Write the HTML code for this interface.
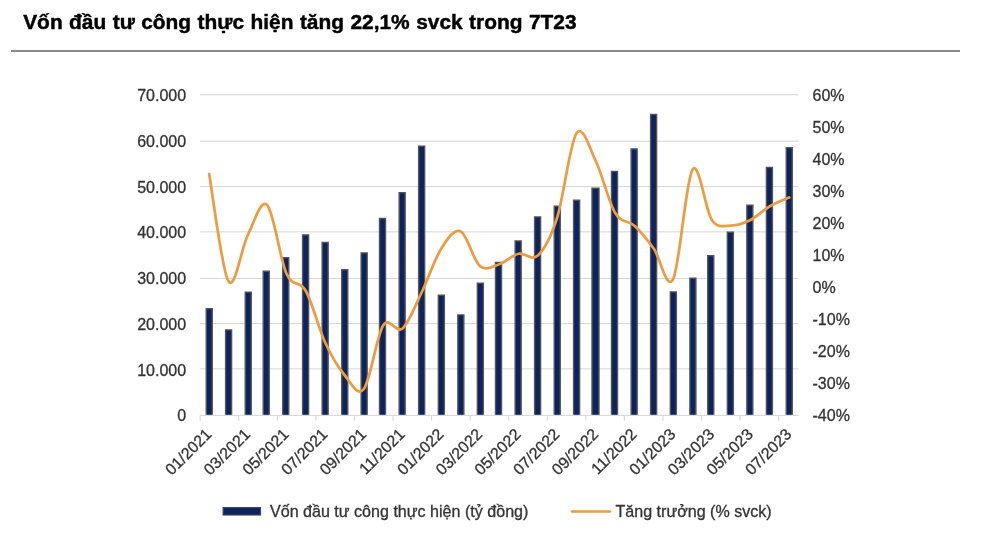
<!DOCTYPE html>
<html><head><meta charset="utf-8">
<style>
html,body{margin:0;padding:0;background:#fff;}
body{width:1000px;height:544px;overflow:hidden;position:relative;font-family:"Liberation Sans",sans-serif;}
.title{position:absolute;left:23.2px;top:9.4px;-webkit-text-stroke:0.45px #000;font-size:20.9px;word-spacing:0.65px;font-weight:bold;color:#000;white-space:nowrap;line-height:26px;}
.rule{position:absolute;left:11px;top:50px;width:949px;height:2px;background:#8a8a8a;}
svg{position:absolute;left:0;top:0;}
.wrap{position:absolute;left:0;top:0;width:1000px;height:544px;will-change:transform;}
.ax{font-family:"Liberation Sans",sans-serif;font-size:16px;fill:#333;stroke:#333;stroke-width:0.3px;}
.lg{font-family:"Liberation Sans",sans-serif;font-size:16.08px;fill:#333;stroke:#333;stroke-width:0.3px;}
</style></head><body>
<div class="wrap"><div class="title">Vốn đầu tư công thực hiện tăng 22,1% svck trong 7T23</div>
<div class="rule"></div>
<svg width="1000" height="544" viewBox="0 0 1000 544">
<line x1="199.8" x2="798.4" y1="368.85" y2="368.85" stroke="#d6d6d6" stroke-width="1"/>
<line x1="199.8" x2="798.4" y1="323.60" y2="323.60" stroke="#d6d6d6" stroke-width="1"/>
<line x1="199.8" x2="798.4" y1="278.45" y2="278.45" stroke="#d6d6d6" stroke-width="1"/>
<line x1="199.8" x2="798.4" y1="231.85" y2="231.85" stroke="#d6d6d6" stroke-width="1"/>
<line x1="199.8" x2="798.4" y1="186.60" y2="186.60" stroke="#d6d6d6" stroke-width="1"/>
<line x1="199.8" x2="798.4" y1="141.20" y2="141.20" stroke="#d6d6d6" stroke-width="1"/>
<line x1="199.8" x2="798.4" y1="94.70" y2="94.70" stroke="#d6d6d6" stroke-width="1"/>
<rect x="206.25" y="308.70" width="6.00" height="108.30" fill="#0c235d" stroke="#53545a" stroke-width="1.4"/>
<rect x="225.60" y="329.95" width="6.00" height="87.05" fill="#0c235d" stroke="#53545a" stroke-width="1.4"/>
<rect x="245.25" y="292.20" width="6.00" height="124.80" fill="#0c235d" stroke="#53545a" stroke-width="1.4"/>
<rect x="263.25" y="271.20" width="6.00" height="145.80" fill="#0c235d" stroke="#53545a" stroke-width="1.4"/>
<rect x="282.75" y="257.70" width="6.00" height="159.30" fill="#0c235d" stroke="#53545a" stroke-width="1.4"/>
<rect x="302.60" y="234.95" width="6.00" height="182.05" fill="#0c235d" stroke="#53545a" stroke-width="1.4"/>
<rect x="322.15" y="242.45" width="6.00" height="174.55" fill="#0c235d" stroke="#53545a" stroke-width="1.4"/>
<rect x="341.75" y="269.70" width="6.00" height="147.30" fill="#0c235d" stroke="#53545a" stroke-width="1.4"/>
<rect x="361.15" y="252.95" width="6.00" height="164.05" fill="#0c235d" stroke="#53545a" stroke-width="1.4"/>
<rect x="379.50" y="218.45" width="6.00" height="198.55" fill="#0c235d" stroke="#53545a" stroke-width="1.4"/>
<rect x="399.15" y="192.70" width="6.00" height="224.30" fill="#0c235d" stroke="#53545a" stroke-width="1.4"/>
<rect x="418.65" y="146.20" width="6.00" height="270.80" fill="#0c235d" stroke="#53545a" stroke-width="1.4"/>
<rect x="438.35" y="295.20" width="6.00" height="121.80" fill="#0c235d" stroke="#53545a" stroke-width="1.4"/>
<rect x="457.85" y="314.95" width="6.00" height="102.05" fill="#0c235d" stroke="#53545a" stroke-width="1.4"/>
<rect x="477.35" y="283.20" width="6.00" height="133.80" fill="#0c235d" stroke="#53545a" stroke-width="1.4"/>
<rect x="495.50" y="262.45" width="6.00" height="154.55" fill="#0c235d" stroke="#53545a" stroke-width="1.4"/>
<rect x="515.15" y="240.95" width="6.00" height="176.05" fill="#0c235d" stroke="#53545a" stroke-width="1.4"/>
<rect x="534.60" y="216.95" width="6.00" height="200.05" fill="#0c235d" stroke="#53545a" stroke-width="1.4"/>
<rect x="554.25" y="206.20" width="6.00" height="210.80" fill="#0c235d" stroke="#53545a" stroke-width="1.4"/>
<rect x="573.60" y="200.20" width="6.00" height="216.80" fill="#0c235d" stroke="#53545a" stroke-width="1.4"/>
<rect x="592.00" y="188.20" width="7.00" height="228.80" fill="#0c235d" stroke="#53545a" stroke-width="1.4"/>
<rect x="611.50" y="171.45" width="6.00" height="245.55" fill="#0c235d" stroke="#53545a" stroke-width="1.4"/>
<rect x="631.15" y="148.95" width="6.00" height="268.05" fill="#0c235d" stroke="#53545a" stroke-width="1.4"/>
<rect x="650.60" y="114.45" width="6.00" height="302.55" fill="#0c235d" stroke="#53545a" stroke-width="1.4"/>
<rect x="670.35" y="291.95" width="6.00" height="125.05" fill="#0c235d" stroke="#53545a" stroke-width="1.4"/>
<rect x="689.90" y="278.20" width="6.00" height="138.80" fill="#0c235d" stroke="#53545a" stroke-width="1.4"/>
<rect x="707.75" y="255.70" width="6.00" height="161.30" fill="#0c235d" stroke="#53545a" stroke-width="1.4"/>
<rect x="727.35" y="232.20" width="6.00" height="184.80" fill="#0c235d" stroke="#53545a" stroke-width="1.4"/>
<rect x="746.85" y="205.20" width="6.00" height="211.80" fill="#0c235d" stroke="#53545a" stroke-width="1.4"/>
<rect x="766.40" y="167.45" width="6.00" height="249.55" fill="#0c235d" stroke="#53545a" stroke-width="1.4"/>
<rect x="786.25" y="147.70" width="6.00" height="269.30" fill="#0c235d" stroke="#53545a" stroke-width="1.4"/>
<rect x="195" y="414.9" width="610" height="3.5" fill="#fff"/>
<line x1="199.8" x2="798.4" y1="415.4" y2="415.4" stroke="#d6d6d6" stroke-width="1"/>
<line x1="200.17" x2="200.17" y1="415.40" y2="420.80" stroke="#d9d9d9" stroke-width="1.1"/>
<line x1="238.74" x2="238.74" y1="415.40" y2="420.80" stroke="#d9d9d9" stroke-width="1.1"/>
<line x1="277.30" x2="277.30" y1="415.40" y2="420.80" stroke="#d9d9d9" stroke-width="1.1"/>
<line x1="315.87" x2="315.87" y1="415.40" y2="420.80" stroke="#d9d9d9" stroke-width="1.1"/>
<line x1="354.43" x2="354.43" y1="415.40" y2="420.80" stroke="#d9d9d9" stroke-width="1.1"/>
<line x1="393.00" x2="393.00" y1="415.40" y2="420.80" stroke="#d9d9d9" stroke-width="1.1"/>
<line x1="431.57" x2="431.57" y1="415.40" y2="420.80" stroke="#d9d9d9" stroke-width="1.1"/>
<line x1="470.13" x2="470.13" y1="415.40" y2="420.80" stroke="#d9d9d9" stroke-width="1.1"/>
<line x1="508.70" x2="508.70" y1="415.40" y2="420.80" stroke="#d9d9d9" stroke-width="1.1"/>
<line x1="547.26" x2="547.26" y1="415.40" y2="420.80" stroke="#d9d9d9" stroke-width="1.1"/>
<line x1="585.83" x2="585.83" y1="415.40" y2="420.80" stroke="#d9d9d9" stroke-width="1.1"/>
<line x1="624.40" x2="624.40" y1="415.40" y2="420.80" stroke="#d9d9d9" stroke-width="1.1"/>
<line x1="662.96" x2="662.96" y1="415.40" y2="420.80" stroke="#d9d9d9" stroke-width="1.1"/>
<line x1="701.53" x2="701.53" y1="415.40" y2="420.80" stroke="#d9d9d9" stroke-width="1.1"/>
<line x1="740.09" x2="740.09" y1="415.40" y2="420.80" stroke="#d9d9d9" stroke-width="1.1"/>
<line x1="778.66" x2="778.66" y1="415.40" y2="420.80" stroke="#d9d9d9" stroke-width="1.1"/>
<path d="M209.15,174.00 C212.37,191.88 222.04,271.13 228.48,281.30 C234.93,291.47 241.37,247.72 247.82,235.00 C254.26,222.28 260.71,198.54 267.15,205.00 C273.60,211.46 280.04,259.42 286.49,273.75 C292.93,288.08 299.38,279.54 305.82,291.00 C312.27,302.46 318.71,328.50 325.16,342.50 C331.60,356.50 338.05,367.25 344.49,375.00 C350.94,382.75 357.38,397.25 363.83,389.00 C370.27,380.75 376.72,335.58 383.16,325.50 C389.61,315.42 396.05,334.08 402.50,328.50 C408.94,322.92 415.39,305.29 421.83,292.00 C428.28,278.71 434.72,258.88 441.17,248.75 C447.61,238.62 454.06,228.38 460.50,231.25 C466.95,234.12 473.39,260.50 479.84,266.00 C486.28,271.50 492.73,266.29 499.17,264.25 C505.62,262.21 512.06,255.21 518.51,253.75 C524.95,252.29 531.40,261.54 537.84,255.50 C544.29,249.46 550.73,237.88 557.18,217.50 C563.62,197.12 570.07,142.62 576.51,133.25 C582.96,123.88 589.40,147.96 595.85,161.25 C602.29,174.54 608.74,202.25 615.18,213.00 C621.63,223.75 628.07,219.79 634.52,225.75 C640.96,231.71 647.41,239.88 653.85,248.75 C660.30,257.62 666.74,292.21 673.19,279.00 C679.63,265.79 686.08,179.33 692.52,169.50 C698.97,159.67 705.41,210.67 711.86,220.00 C718.30,229.33 724.75,225.50 731.19,225.50 C737.64,225.50 744.08,223.21 750.53,220.00 C756.97,216.79 763.42,210.00 769.86,206.25 C776.31,202.50 785.98,198.96 789.20,197.50" fill="none" stroke="#ec9c42" stroke-width="2.75" stroke-linecap="round" stroke-linejoin="round"/>
<text x="186.1" y="421.30" text-anchor="end" class="ax">0</text>
<text x="186.1" y="375.58" text-anchor="end" class="ax">10.000</text>
<text x="186.1" y="329.86" text-anchor="end" class="ax">20.000</text>
<text x="186.1" y="284.14" text-anchor="end" class="ax">30.000</text>
<text x="186.1" y="238.42" text-anchor="end" class="ax">40.000</text>
<text x="186.1" y="192.70" text-anchor="end" class="ax">50.000</text>
<text x="186.1" y="146.98" text-anchor="end" class="ax">60.000</text>
<text x="186.1" y="101.26" text-anchor="end" class="ax">70.000</text>
<text x="812.5" y="420.70" class="ax">-40%</text>
<text x="812.5" y="388.73" class="ax">-30%</text>
<text x="812.5" y="356.76" class="ax">-20%</text>
<text x="812.5" y="324.79" class="ax">-10%</text>
<text x="812.5" y="292.82" class="ax">0%</text>
<text x="812.5" y="260.85" class="ax">10%</text>
<text x="812.5" y="228.88" class="ax">20%</text>
<text x="812.5" y="196.91" class="ax">30%</text>
<text x="812.5" y="164.94" class="ax">40%</text>
<text x="812.5" y="132.97" class="ax">50%</text>
<text x="812.5" y="101.00" class="ax">60%</text>
<text transform="translate(212.55,435.20) rotate(-45)" text-anchor="end" class="ax">01/2021</text>
<text transform="translate(251.22,435.20) rotate(-45)" text-anchor="end" class="ax">03/2021</text>
<text transform="translate(289.89,435.20) rotate(-45)" text-anchor="end" class="ax">05/2021</text>
<text transform="translate(328.56,435.20) rotate(-45)" text-anchor="end" class="ax">07/2021</text>
<text transform="translate(367.23,435.20) rotate(-45)" text-anchor="end" class="ax">09/2021</text>
<text transform="translate(405.90,435.20) rotate(-45)" text-anchor="end" class="ax">11/2021</text>
<text transform="translate(444.57,435.20) rotate(-45)" text-anchor="end" class="ax">01/2022</text>
<text transform="translate(483.24,435.20) rotate(-45)" text-anchor="end" class="ax">03/2022</text>
<text transform="translate(521.91,435.20) rotate(-45)" text-anchor="end" class="ax">05/2022</text>
<text transform="translate(560.58,435.20) rotate(-45)" text-anchor="end" class="ax">07/2022</text>
<text transform="translate(599.25,435.20) rotate(-45)" text-anchor="end" class="ax">09/2022</text>
<text transform="translate(637.92,435.20) rotate(-45)" text-anchor="end" class="ax">11/2022</text>
<text transform="translate(676.59,435.20) rotate(-45)" text-anchor="end" class="ax">01/2023</text>
<text transform="translate(715.26,435.20) rotate(-45)" text-anchor="end" class="ax">03/2023</text>
<text transform="translate(753.93,435.20) rotate(-45)" text-anchor="end" class="ax">05/2023</text>
<text transform="translate(792.60,435.20) rotate(-45)" text-anchor="end" class="ax">07/2023</text>
<rect x="223.1" y="507.6" width="37.4" height="7.4" fill="#0b2361" stroke="#3e4560" stroke-width="1.2"/>
<text x="270" y="516.5" class="lg">Vốn đầu tư công thực hiện (tỷ đồng)</text>
<line x1="572" x2="610" y1="511.5" y2="511.5" stroke="#ec9a3c" stroke-width="2.4" stroke-linecap="round"/>
<text x="615.5" y="516.5" class="lg">Tăng trưởng (% svck)</text>
</svg>
</div>
</body></html>
